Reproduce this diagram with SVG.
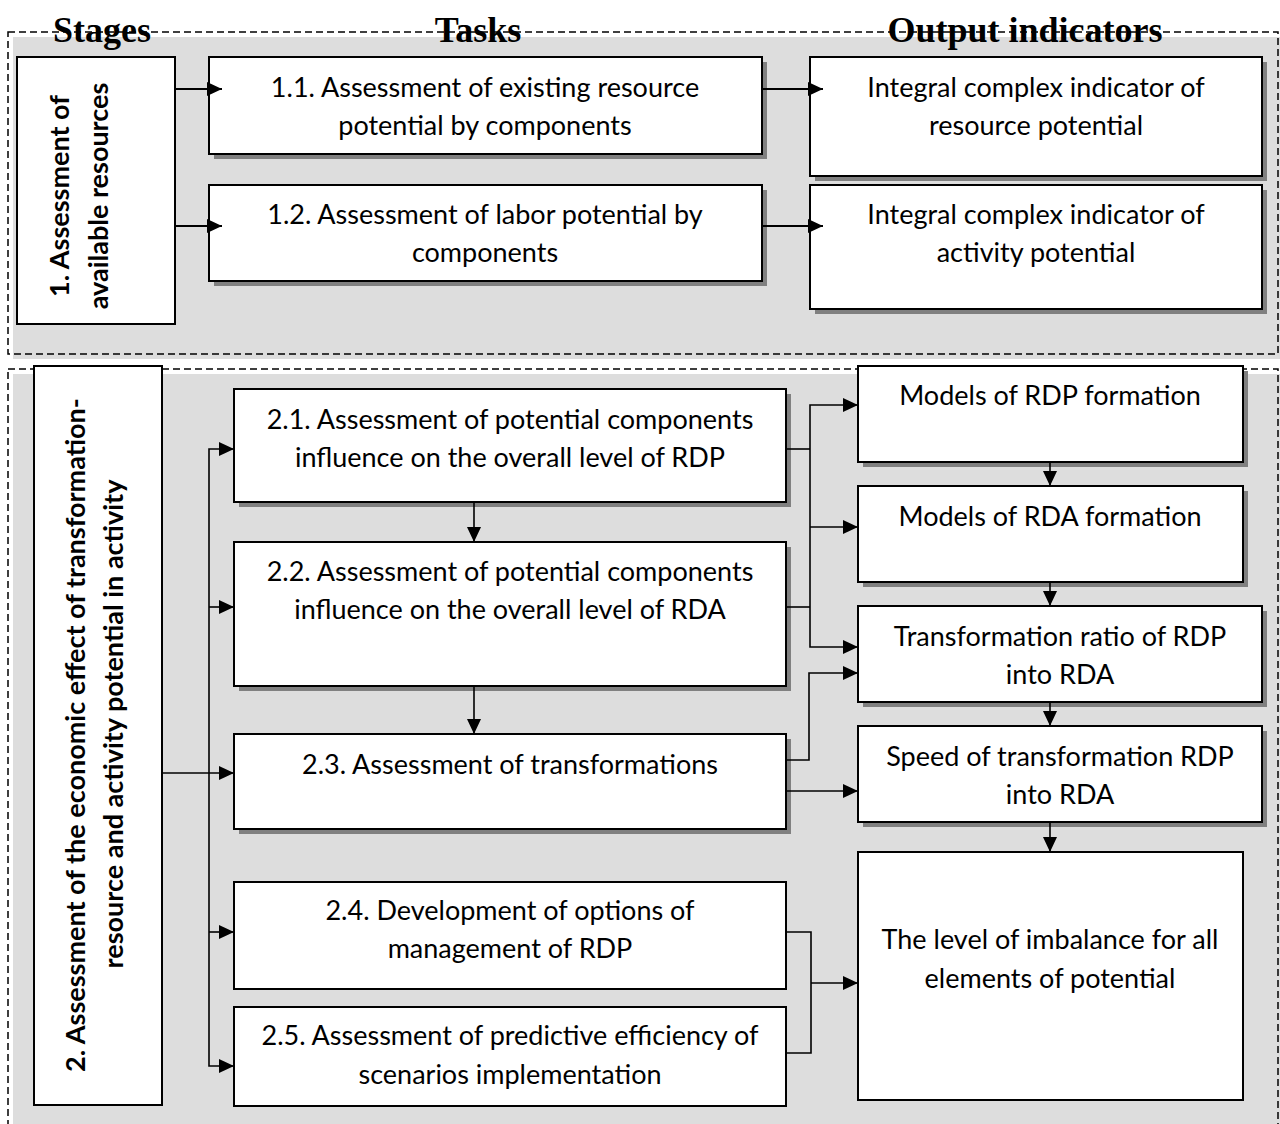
<svg xmlns="http://www.w3.org/2000/svg" width="1280" height="1124" viewBox="0 0 1280 1124">
<style>
.panelbg{fill:#dddddd;stroke:none}
.panel{fill:none;stroke:#000;stroke-width:1.5;stroke-dasharray:7 4}
.box{fill:#fff;stroke:#000;stroke-width:2}
.sh{fill:#808080;stroke:none}
.t{font-family:Lato,"Liberation Sans",sans-serif;font-size:27px;fill:#000;text-anchor:middle}
.b{font-weight:bold}
.h{font-family:"Liberation Serif",serif;font-weight:bold;font-size:36px;fill:#000;text-anchor:middle}
.c1{fill:none;stroke:#000;stroke-width:2}
.c2{fill:none;stroke:#000;stroke-width:1.6}
</style>
<defs>
<marker id="ah" markerUnits="userSpaceOnUse" viewBox="0 0 15 14" refX="15" refY="7" markerWidth="15" markerHeight="14" orient="auto">
<path d="M0,0 L15,7 L0,14 z" fill="#000"/>
</marker>
</defs>
<rect width="1280" height="1124" fill="#fff"/>
<g id="panel1">
<rect class="panelbg" x="13" y="37" width="1270" height="322"/>
<rect class="panel" x="8" y="32" width="1270" height="322"/>
</g>
<g id="panel2">
<rect class="panelbg" x="13" y="374" width="1270" height="760"/>
<rect class="panel" x="8" y="369" width="1270" height="770"/>
</g>
<g id="headers">
<text class="h" x="102" y="42">Stages</text>
<text class="h" x="478" y="42">Tasks</text>
<text class="h" x="1025" y="42">Output indicators</text>
</g>
<g id="stage1">
<rect class="box" x="17" y="57" width="158" height="267"/>
<text class="t b" transform="translate(69,196) rotate(-90)">1. Assessment of</text>
<text class="t b" transform="translate(108,196) rotate(-90)">available resources</text>
</g>
<g id="task11">
<rect class="sh" x="214" y="62" width="553" height="97"/>
<rect class="box" x="209" y="57" width="553" height="97"/>
<text class="t" x="485" y="97">1.1. Assessment of existing resource</text>
<text class="t" x="485" y="135">potential by components</text>
</g>
<g id="task12">
<rect class="sh" x="214" y="190" width="553" height="96"/>
<rect class="box" x="209" y="185" width="553" height="96"/>
<text class="t" x="485" y="224">1.2. Assessment of labor potential by</text>
<text class="t" x="485" y="262">components</text>
</g>
<g id="out11">
<rect class="sh" x="815" y="62" width="452" height="119"/>
<rect class="box" x="810" y="57" width="452" height="119"/>
<text class="t" x="1036" y="97">Integral complex indicator of</text>
<text class="t" x="1036" y="135">resource potential</text>
</g>
<g id="out12">
<rect class="sh" x="815" y="190" width="452" height="124"/>
<rect class="box" x="810" y="185" width="452" height="124"/>
<text class="t" x="1036" y="224">Integral complex indicator of</text>
<text class="t" x="1036" y="262">activity potential</text>
</g>
<g id="stage2">
<rect class="box" x="34" y="366" width="128" height="739"/>
<text class="t b" transform="translate(85,735) rotate(-90)">2. Assessment of the economic effect of transformation-</text>
<text class="t b" transform="translate(123,724) rotate(-90)">resource and activity potential in activity</text>
</g>
<g id="task21">
<rect class="sh" x="239" y="394" width="552" height="113"/>
<rect class="box" x="234" y="389" width="552" height="113"/>
<text class="t" x="510" y="429">2.1. Assessment of potential components</text>
<text class="t" x="510" y="467">influence on the overall level of RDP</text>
</g>
<g id="task22">
<rect class="sh" x="239" y="547" width="552" height="144"/>
<rect class="box" x="234" y="542" width="552" height="144"/>
<text class="t" x="510" y="581">2.2. Assessment of potential components</text>
<text class="t" x="510" y="619">influence on the overall level of RDA</text>
</g>
<g id="task23">
<rect class="sh" x="239" y="739" width="552" height="95"/>
<rect class="box" x="234" y="734" width="552" height="95"/>
<text class="t" x="510" y="774">2.3. Assessment of transformations</text>
</g>
<g id="task24">
<rect class="box" x="234" y="882" width="552" height="107"/>
<text class="t" x="510" y="920">2.4. Development of options of</text>
<text class="t" x="510" y="958">management of RDP</text>
</g>
<g id="task25">
<rect class="box" x="234" y="1007" width="552" height="99"/>
<text class="t" x="510" y="1045">2.5. Assessment of predictive efficiency of</text>
<text class="t" x="510" y="1084">scenarios implementation</text>
</g>
<g id="outRDP">
<rect class="sh" x="863" y="371" width="385" height="96"/>
<rect class="box" x="858" y="366" width="385" height="96"/>
<text class="t" x="1050" y="405">Models of RDP formation</text>
</g>
<g id="outRDA">
<rect class="sh" x="863" y="491" width="385" height="96"/>
<rect class="box" x="858" y="486" width="385" height="96"/>
<text class="t" x="1050" y="526">Models of RDA formation</text>
</g>
<g id="outRatio">
<rect class="sh" x="863" y="611" width="404" height="96"/>
<rect class="box" x="858" y="606" width="404" height="96"/>
<text class="t" x="1060" y="646">Transformation ratio of RDP</text>
<text class="t" x="1060" y="684">into RDA</text>
</g>
<g id="outSpeed">
<rect class="sh" x="863" y="731" width="404" height="96"/>
<rect class="box" x="858" y="726" width="404" height="96"/>
<text class="t" x="1060" y="766">Speed of transformation RDP</text>
<text class="t" x="1060" y="804">into RDA</text>
</g>
<g id="outLevel">
<rect class="box" x="858" y="852" width="385" height="248"/>
<text class="t" x="1050" y="949">The level of imbalance for all</text>
<text class="t" x="1050" y="988">elements of potential</text>
</g>
<g id="connectors">
<line class="c1" x1="175" y1="89" x2="222" y2="89" marker-end="url(#ah)"/>
<line class="c1" x1="175" y1="226" x2="222" y2="226" marker-end="url(#ah)"/>
<line class="c1" x1="762" y1="89" x2="823" y2="89" marker-end="url(#ah)"/>
<line class="c1" x1="762" y1="226" x2="823" y2="226" marker-end="url(#ah)"/>
<line class="c2" x1="162" y1="773" x2="234" y2="773" marker-end="url(#ah)"/>
<path class="c2" d="M209,773 L209,449 L234,449" marker-end="url(#ah)"/>
<path class="c2" d="M209,773 L209,1066 L234,1066" marker-end="url(#ah)"/>
<line class="c2" x1="209" y1="607" x2="234" y2="607" marker-end="url(#ah)"/>
<line class="c2" x1="209" y1="932" x2="234" y2="932" marker-end="url(#ah)"/>
<line class="c2" x1="474" y1="502" x2="474" y2="542" marker-end="url(#ah)"/>
<line class="c2" x1="474" y1="686" x2="474" y2="734" marker-end="url(#ah)"/>
<line class="c2" x1="786" y1="449" x2="810" y2="449"/>
<path class="c2" d="M810,449 L810,405 L858,405" marker-end="url(#ah)"/>
<path class="c2" d="M810,449 L810,647 L858,647" marker-end="url(#ah)"/>
<line class="c2" x1="810" y1="527" x2="858" y2="527" marker-end="url(#ah)"/>
<line class="c2" x1="786" y1="607" x2="810" y2="607"/>
<path class="c2" d="M786,760 L809,760 L809,673 L858,673" marker-end="url(#ah)"/>
<line class="c2" x1="786" y1="791" x2="858" y2="791" marker-end="url(#ah)"/>
<line class="c2" x1="1050" y1="462" x2="1050" y2="486" marker-end="url(#ah)"/>
<line class="c2" x1="1050" y1="582" x2="1050" y2="606" marker-end="url(#ah)"/>
<line class="c2" x1="1050" y1="702" x2="1050" y2="726" marker-end="url(#ah)"/>
<line class="c2" x1="1050" y1="822" x2="1050" y2="852" marker-end="url(#ah)"/>
<path class="c2" d="M786,932 L811,932 L811,1053 L786,1053"/>
<line class="c2" x1="811" y1="983" x2="858" y2="983" marker-end="url(#ah)"/>
</g>
</svg>
